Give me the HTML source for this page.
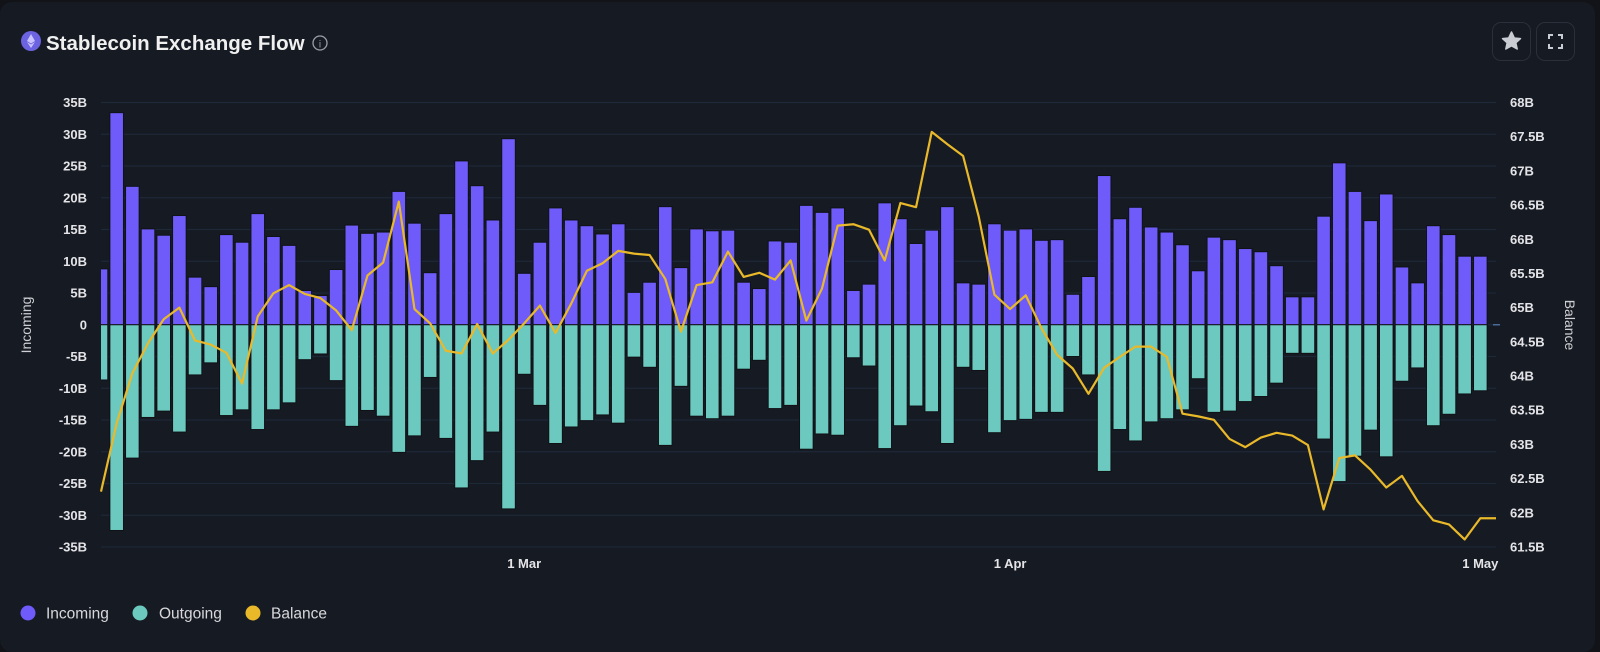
<!DOCTYPE html>
<html><head><meta charset="utf-8"><style>
html,body{margin:0;padding:0;background:#111318;width:1600px;height:647px;overflow:hidden;font-family:"Liberation Sans",sans-serif;}
#card{position:absolute;left:0;top:2px;width:1595px;height:650px;background:#161a22;border-radius:12px;}
.btn{position:absolute;top:22px;width:39px;height:39px;border:1px solid #2a2f3a;border-radius:9px;box-sizing:border-box;}
</style></head><body>
<div id="card"></div>
<svg width="1600" height="647" style="position:absolute;left:0;top:0">
<g>
<circle cx="31" cy="41" r="10" fill="#6c63e0"/>
<path d="M31 34 L35 41 L31 43.5 L27 41 Z M31 44.5 L35 42 L31 48 L27 42 Z" fill="#c9c4ff"/>
<text x="46" y="50" font-size="20.5" font-weight="bold" fill="#f0f0f0">Stablecoin Exchange Flow</text>
<g><circle cx="320" cy="43" r="7" fill="none" stroke="#9aa0aa" stroke-width="1.3"/><text x="320" y="47.5" font-size="10" text-anchor="middle" fill="#9aa0aa">i</text></g>
</g>
<g id="plot"></g>
<g>
<g><circle cx="28" cy="613" r="7.5" fill="#6e5bfa"/><text x="46" y="618.5" font-size="15.5" fill="#d8d8dc">Incoming</text></g>
<g><circle cx="140" cy="613" r="7.5" fill="#6cc9bf"/><text x="159" y="618.5" font-size="15.5" fill="#d8d8dc">Outgoing</text></g>
<g><circle cx="253" cy="613" r="7.5" fill="#e9b92a"/><text x="271" y="618.5" font-size="15.5" fill="#d8d8dc">Balance</text></g>
</g>
</svg>
<div class="btn" style="left:1492px">
<svg width="37" height="37"><polygon points="18.5,9 21.3,15 27.5,15.6 22.8,19.8 24.2,26 18.5,22.8 12.8,26 14.2,19.8 9.5,15.6 15.7,15" fill="#c9ccd3" stroke="#c9ccd3" stroke-linejoin="round" stroke-width="1.5"/></svg></div>
<div class="btn" style="left:1536px">
<svg width="37" height="37" fill="none" stroke="#c9ccd3" stroke-width="2"><path d="M12 16v-4h4M21 12h4v4M25 21v4h-4M16 25h-4v-4"/></svg></div>
<script>
const incoming=[8.8,33.4,21.8,15.1,14.1,17.2,7.5,6.0,14.2,13.0,17.5,13.9,12.5,5.4,4.6,8.7,15.7,14.4,14.6,21.0,16.0,8.2,17.5,25.8,21.9,16.5,29.3,8.1,13.0,18.4,16.5,15.6,14.3,15.9,5.1,6.7,18.6,9.0,15.1,14.8,14.9,6.7,5.7,13.2,13.0,18.8,17.7,18.4,5.4,6.4,19.2,16.7,12.8,14.9,18.6,6.6,6.4,15.9,14.9,15.1,13.3,13.4,4.8,7.6,23.5,16.7,18.5,15.4,14.6,12.6,8.5,13.8,13.4,12.0,11.5,9.3,4.4,4.4,17.1,25.5,21.0,16.4,20.6,9.1,6.6,15.6,14.2,10.8,10.8];
const outgoing=[-8.7,-32.4,-21.0,-14.6,-13.6,-16.9,-7.9,-6.0,-14.3,-13.4,-16.5,-13.4,-12.3,-5.5,-4.6,-8.8,-16.0,-13.5,-14.4,-20.1,-17.5,-8.3,-17.9,-25.7,-21.4,-16.9,-29.0,-7.8,-12.7,-18.7,-16.1,-15.1,-14.2,-15.5,-5.1,-6.7,-19.0,-9.7,-14.4,-14.8,-14.4,-7.0,-5.6,-13.2,-12.7,-19.6,-17.2,-17.4,-5.2,-6.5,-19.5,-15.9,-12.8,-13.7,-18.7,-6.7,-7.2,-17.0,-15.1,-14.9,-13.8,-13.8,-5.0,-7.9,-23.1,-16.5,-18.3,-15.3,-14.8,-13.4,-8.5,-13.8,-13.6,-12.1,-11.3,-9.2,-4.5,-4.5,-18.0,-24.7,-20.7,-16.6,-20.8,-8.9,-6.8,-15.9,-14.1,-10.9,-10.4];
const balance=[62.31,63.31,64.04,64.48,64.83,65.0,64.52,64.46,64.34,63.89,64.87,65.21,65.33,65.20,65.14,64.96,64.67,65.47,65.66,66.55,64.98,64.77,64.37,64.33,64.76,64.33,64.53,64.77,65.03,64.63,65.06,65.54,65.65,65.83,65.79,65.77,65.42,64.65,65.33,65.37,65.82,65.45,65.51,65.41,65.69,64.81,65.28,66.20,66.22,66.14,65.69,66.53,66.47,67.57,67.39,67.22,66.33,65.19,64.98,65.18,64.70,64.31,64.11,63.74,64.12,64.28,64.43,64.43,64.28,63.45,63.41,63.36,63.08,62.96,63.10,63.17,63.13,62.99,62.05,62.80,62.84,62.63,62.37,62.54,62.17,61.89,61.83,61.61,61.92,61.92];
const leftTicks=[35,30,25,20,15,10,5,0,-5,-10,-15,-20,-25,-30,-35];
const rightTicks=[68,67.5,67,66.5,66,65.5,65,64.5,64,63.5,63,62.5,62,61.5];
const xTickIdx=[27,58,88];
const xTickLabels=["1 Mar","1 Apr","1 May"];
const X0=101,X1=1496,YT=102.5,YB=547;
const x=i=>X0+i*(X1-X0)/89;
const yL=v=>YT+(35-v)*(YB-YT)/70;
const yR=v=>YT+(68-v)*(YB-YT)/6.5;
const NS="http://www.w3.org/2000/svg";
const plot=document.getElementById('plot');
function mk(t,a,p){const e=document.createElementNS(NS,t);for(const k in a)e.setAttribute(k,a[k]);(p||plot).appendChild(e);return e;}
const defs=mk('defs',{});const cp=mk('clipPath',{id:'pc'},defs);mk('rect',{x:X0,y:0,width:X1-X0+10,height:647},cp);
leftTicks.forEach(v=>{
 const g=mk('line',{x1:X0,x2:X1,y1:yL(v),y2:yL(v),stroke:'#1e2838','stroke-width':1.3});
 
 
 const t=mk('text',{x:87,y:yL(v)+4.5,'text-anchor':'end','font-size':13,'font-weight':'bold',fill:'#e4e4e8'});
 
 
 t.textContent=v===0?'0':v+'B';
});
rightTicks.forEach(v=>{
 const t=mk('text',{x:1510,y:yR(v)+4.5,'font-size':13,'font-weight':'bold',fill:'#e4e4e8'});
 
 
 t.textContent=v+'B';
});
xTickIdx.forEach((d,k)=>{
 const t=mk('text',{x:x(d),y:568,'text-anchor':'middle','font-size':13,'font-weight':'bold',fill:'#e4e4e8'});
 
 
 t.textContent=xTickLabels[k];
});
const yt1=mk('text',{transform:'translate(31,325) rotate(-90)','text-anchor':'middle','font-size':14,fill:'#cfcfd4'});


yt1.textContent='Incoming';
const yt2=mk('text',{transform:'translate(1565,325) rotate(90)','text-anchor':'middle','font-size':14,fill:'#cfcfd4'});


yt2.textContent='Balance';
const bars=mk('g',{'clip-path':'url(#pc)'});
const bw=13.6;
incoming.forEach((v,i)=>{
 const r=mk('rect',{x:x(i)-bw/2,y:yL(v),width:bw,height:yL(0)-yL(v),fill:'#6e5bfa',stroke:'#101216','stroke-width':1},bars);
 
 
});
outgoing.forEach((v,i)=>{
 const r=mk('rect',{x:x(i)-bw/2,y:yL(0),width:bw,height:yL(v)-yL(0),fill:'#6cc9bf',stroke:'#101216','stroke-width':1},bars);
 
 
});
mk('line',{x1:X1-3,x2:X1+4,y1:yL(0),y2:yL(0),stroke:'#4a6a9a','stroke-width':1.5});
const ln=mk('polyline',{points:balance.map((v,i)=>x(i)+','+yR(v)).join(' '),fill:'none',stroke:'#e9b92a','stroke-width':2.2,'stroke-linejoin':'round'});


</script>
</body></html>
